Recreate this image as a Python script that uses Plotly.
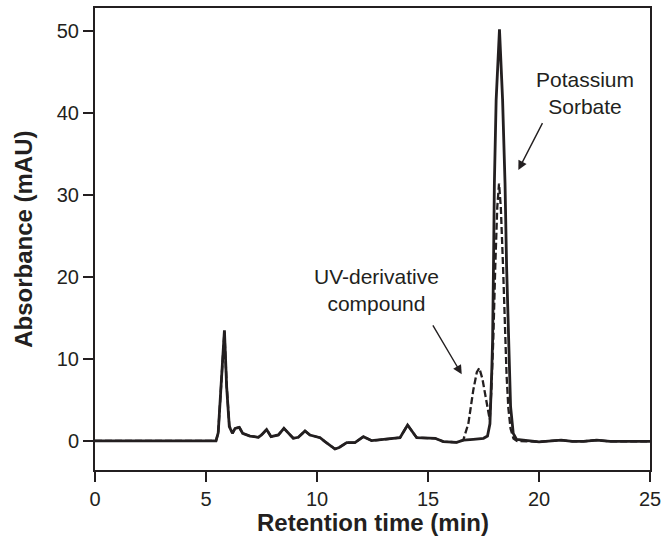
import plotly.graph_objects as go

# Solid trace (sample)
time_solid = [0, 5.45, 5.55, 5.68, 5.83, 5.93, 6.05, 6.19, 6.31, 6.5, 6.65, 6.98, 7.36, 7.5, 7.73,
              7.93, 8.26, 8.51, 8.71, 8.93, 9.16, 9.46, 9.68, 10.14, 10.36, 10.81, 11.0, 11.34,
              11.71, 12.09, 12.46, 13.14, 13.74, 14.08, 14.49, 15.32, 15.69, 16.29, 16.6, 17.04,
              17.5, 17.68, 17.79, 17.87, 17.91, 17.95, 17.99, 18.07, 18.22, 18.36, 18.47, 18.54,
              18.62, 18.72, 18.84, 18.99, 20.0, 20.5, 21.0, 21.5, 22.0, 22.6, 23.2, 25.0]
abs_solid = [0, 0, 1.0, 6.6, 13.5, 6.6, 1.75, 0.94, 1.54, 1.67, 0.94, 0.6, 0.45, 0.73, 1.4,
             0.53, 0.73, 1.54, 0.93, 0.33, 0.45, 1.22, 0.73, 0.4, -0.08, -0.98, -0.8, -0.2,
             -0.2, 0.53, 0.04, 0.2, 0.4, 1.95, 0.4, 0.33, -0.08, -0.16, 0.1, 0.2,
             0.33, 0.6, 2.1, 8.3, 12.3, 21.3, 31.4, 41.6, 50.2, 41.6, 31.4, 21.3,
             12.3, 4.2, 0.93, 0.2, -0.1, 0.0, 0.1, -0.05, -0.05, 0.1, -0.05, -0.05]

# Dashed trace (with UV-derivative compound)
time_dashed = [0, 5.45, 5.55, 5.68, 5.83, 5.93, 6.05, 6.19, 6.31, 6.5, 6.65, 6.98, 7.36, 7.5, 7.73,
               7.93, 8.26, 8.51, 8.71, 8.93, 9.16, 9.46, 9.68, 10.14, 10.36, 10.81, 11.0, 11.34,
               11.71, 12.09, 12.46, 13.14, 13.74, 14.08, 14.49, 15.32, 15.69, 16.29, 16.45, 16.59,
               16.82, 17.04, 17.2, 17.31, 17.45, 17.57, 17.72, 17.78, 17.85, 17.94, 18.03, 18.12,
               18.2, 18.28, 18.38, 18.46, 18.54, 18.62, 18.72, 18.85, 19.0, 20.0, 20.5, 21.0,
               21.5, 22.0, 22.6, 23.2, 25.0]
abs_dashed = [0, 0, 1.0, 6.6, 13.3, 6.8, 1.9, 0.94, 1.54, 1.67, 0.94, 0.6, 0.45, 0.73, 1.4,
              0.53, 0.73, 1.54, 0.93, 0.33, 0.45, 1.22, 0.73, 0.4, -0.08, -0.98, -0.8, -0.2,
              -0.2, 0.53, 0.04, 0.2, 0.4, 1.95, 0.4, 0.33, -0.08, -0.16, 0.0, 0.12,
              2.15, 6.2, 8.4, 8.9, 7.6, 5.8, 3.2, 2.6, 6.0, 12.3, 21.3, 28.5,
              31.4, 28.5, 21.3, 14.0, 8.0, 4.0, 1.5, 0.3, 0.0, -0.1, 0.0, 0.1,
              -0.05, -0.05, 0.1, -0.05, -0.05]

x_ticks = [0, 5, 10, 15, 20, 25]
y_ticks = [0, 10, 20, 30, 40, 50]

INK = "#231f20"
FONT = "Liberation Sans, Arial, sans-serif"

fig = go.Figure()
fig.add_trace(go.Scatter(x=time_solid, y=abs_solid, mode="lines",
                         line=dict(color=INK, width=2.8), showlegend=False))
fig.add_trace(go.Scatter(x=time_dashed, y=abs_dashed, mode="lines",
                         line=dict(color=INK, width=2.3, dash="7px,3px"), showlegend=False))

# Labels
fig.add_annotation(x=22.07, y=42.4, xref="x", yref="y", text="Potassium<br>Sorbate",
                   showarrow=False, font=dict(family=FONT, size=21, color=INK))
fig.add_annotation(x=12.7, y=18.4, xref="x", yref="y", text="UV-derivative<br>compound",
                   showarrow=False, font=dict(family=FONT, size=21, color=INK))
# Arrows
fig.add_annotation(x=19.07, y=33.05, ax=20.19, ay=38.94, xref="x", yref="y", axref="x", ayref="y",
                   text="", showarrow=True, arrowhead=2, arrowsize=1.3, arrowwidth=1.4,
                   arrowcolor=INK, standoff=0)
fig.add_annotation(x=16.52, y=8.13, ax=15.18, ay=14.27, xref="x", yref="y", axref="x", ayref="y",
                   text="", showarrow=True, arrowhead=2, arrowsize=1.3, arrowwidth=1.4,
                   arrowcolor=INK, standoff=0)

# Axis titles
fig.add_annotation(x=0.5, y=-0.1147, xref="paper", yref="paper", text="<b>Retention time (min)</b>",
                   showarrow=False, xanchor="center", yanchor="middle",
                   font=dict(family=FONT, size=24, color=INK))
fig.add_annotation(x=-0.13, y=0.5, xref="paper", yref="paper", text="<b>Absorbance (mAU)</b>",
                   showarrow=False, xanchor="center", yanchor="middle", textangle=-90,
                   font=dict(family=FONT, size=24, color=INK))

fig.update_xaxes(range=[0, 25], tickvals=x_ticks, ticks="outside", ticklen=10, tickwidth=2,
                 tickcolor=INK, showline=True, linewidth=2, linecolor=INK, mirror=True,
                 showgrid=False, zeroline=False, automargin=False,
                 tickfont=dict(family=FONT, size=20, color=INK))
fig.update_yaxes(range=[-3.54, 52.8], tickvals=y_ticks, ticks="outside", ticklen=10, tickwidth=2,
                 tickcolor=INK, showline=True, linewidth=2, linecolor=INK, mirror=True,
                 showgrid=False, zeroline=False, automargin=False,
                 tickfont=dict(family=FONT, size=20, color=INK))

fig.update_layout(width=663, height=547, margin=dict(l=95, r=13, t=8, b=77),
                  plot_bgcolor="white", paper_bgcolor="white")

fig.write_html("out.html", config={"displayModeBar": False},
               post_script="document.body.style.margin='0';document.body.style.overflow='hidden';")
